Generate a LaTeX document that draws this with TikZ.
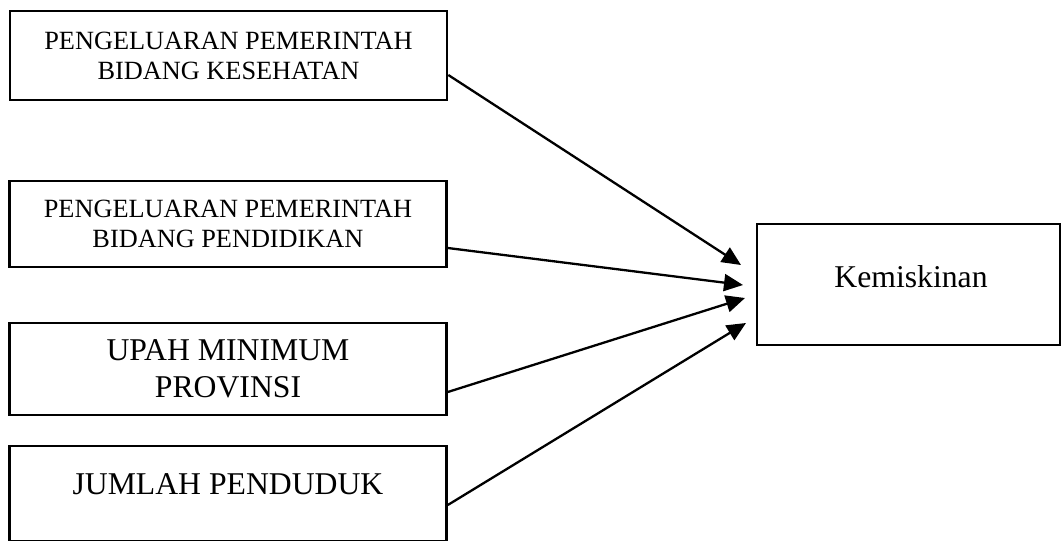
\documentclass[tikz,border=0pt]{standalone}
\usepackage{fontspec}
\setmainfont{Liberation Serif}
\usetikzlibrary{arrows.meta}
\begin{document}
\begin{tikzpicture}[x=1pt,y=-1pt,
  box/.style={draw=black, line width=2.6pt, inner sep=0pt, minimum width=437pt},
  smalltxt/.style={font=\fontsize{26.3}{30}\selectfont, align=center},
  bigtxt/.style={font=\fontsize{31.7}{37}\selectfont, align=center},
  arr/.style={line width=2.3pt, -{Triangle[length=19pt, width=17pt]}}]
\useasboundingbox (0,0) rectangle (1061,541);
\clip (0,0) rectangle (1061,541);
\node[box, minimum height=89pt, smalltxt] (b1) at (228.5,55.5) {PENGELUARAN PEMERINTAH\\BIDANG KESEHATAN};
\node[box, minimum height=86pt, smalltxt] (b2) at (228,224) {PENGELUARAN PEMERINTAH\\BIDANG PENDIDIKAN};
\node[box, minimum height=92pt, bigtxt] (b3) at (228,369) {UPAH MINIMUM\\PROVINSI};
\node[box, minimum height=95pt] (b4) at (228,493.5) {};
\node[bigtxt, anchor=base] (t4) at (228,494) {JUMLAH PENDUDUK};
\node[draw=black, line width=2.6pt, minimum width=303pt, minimum height=121pt, inner sep=0pt] (k) at (908.5,284.5) {};
\node[bigtxt, anchor=base] (kt) at (911,287) {Kemiskinan};
\coordinate (e1) at (741,265);
\coordinate (e2) at (743,285);
\coordinate (e3) at (745,298);
\coordinate (e4) at (746,323);
\draw[arr] ([yshift=-19.5pt]b1.east) -- (e1);
\draw[arr] ([yshift=-24pt]b2.east) -- (e2);
\draw[arr] ([yshift=-23pt]b3.east) -- (e3);
\draw[arr] ([yshift=-11.5pt]b4.east) -- (e4);
\end{tikzpicture}
\end{document}
